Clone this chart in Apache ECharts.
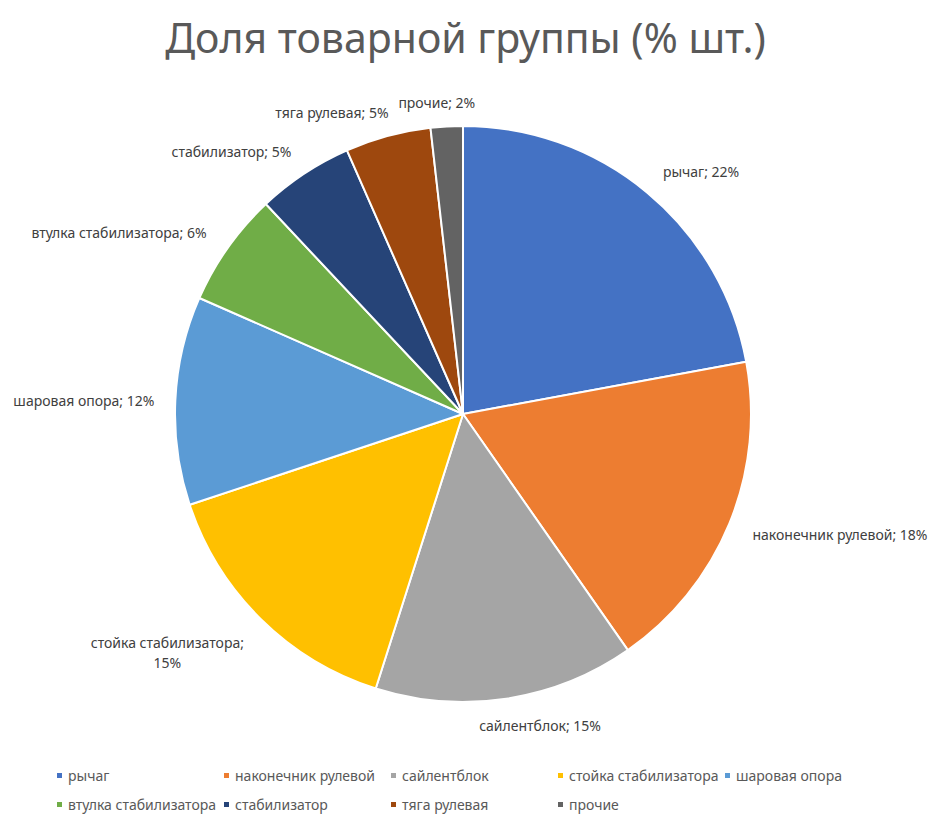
<!DOCTYPE html>
<html>
<head>
<meta charset="utf-8">
<script src="https://cdn.jsdelivr.net/npm/echarts@6/dist/echarts.min.js"></script>
<style>
  html, body { margin: 0; padding: 0; background: #fff; }
  #chart { width: 931px; height: 819px; }
</style>
</head>
<body>
<div id="chart"></div>
<script>
var titleText = "Доля товарной группы (% шт.)";
var names = ["рычаг", "наконечник рулевой", "сайлентблок", "стойка стабилизатора",
  "шаровая опора", "втулка стабилизатора", "стабилизатор", "тяга рулевая", "прочие"];
var shares = [22.1, 18.2, 14.6, 15.0, 11.7, 6.4, 5.4, 4.8, 1.8];
var colors = ["#4472C4", "#ED7D31", "#A5A5A5", "#FFC000", "#5B9BD5",
  "#70AD47", "#264478", "#9E480E", "#636363"];

var fontFam = '"Noto Sans", sans-serif';

var data = [];
for (let i = 0; i < names.length; i++) {
  data.push({ name: names[i], value: shares[i] });
}

// nudges so the labels sit where Excel's best-fit put them
function labelNudge(params) {
  switch (params.dataIndex) {
    case 0: return { dx: -6, dy: -1 };
    case 1: return { dx: -6, dy: 1 };
    case 2: return { dx: -36, dy: 1 };
    case 3: return { dx: -70, dy: 15, align: "center" };
    case 4: return { dx: 5, dy: 1 };
    case 6: return { dx: 2, dy: -1 };
    case 7: return { dx: 43, dy: -10 };
    case 8: return { dx: 35, dy: 2 };
  }
  return {};
}

var chartDom = document.getElementById("chart");
var myChart = echarts.init(chartDom, null, { renderer: "svg" });
var option = {
  color: colors,
  animation: false,
  title: {
    text: titleText,
    left: "center",
    top: 11,
    textStyle: {
      fontFamily: fontFam,
      fontSize: 41,
      fontWeight: "normal",
      color: "#595959"
    }
  },
  legend: {
    left: 50,
    top: 758,
    width: 870,
    itemWidth: 7,
    itemHeight: 7,
    itemGap: 4,
    icon: "rect",
    textStyle: {
      fontFamily: fontFam,
      fontSize: 14,
      color: "#595959",
      width: 150,
      lineHeight: 25
    },
    data: names
  },
  series: [
    {
      type: "pie",
      center: [463, 414],
      radius: 288,
      startAngle: 90,
      clockwise: true,
      percentPrecision: 0,
      itemStyle: { borderColor: "#fff", borderWidth: 2 },
      label: {
        position: "outside",
        fontFamily: fontFam,
        fontSize: 14,
        color: "#404040",
        overflow: "none",
        edgeDistance: 2,
        formatter: function (p) {
          if (p.name === "стойка стабилизатора") return p.name + ";\n" + p.percent + "%";
          return p.name + "; " + p.percent + "%";
        },
        lineHeight: 20
      },
      labelLine: { show: false, length: 26, length2: 0 },
      labelLayout: labelNudge,
      data: data
    }
  ]
};
option && myChart.setOption(option);
</script>
</body>
</html>
